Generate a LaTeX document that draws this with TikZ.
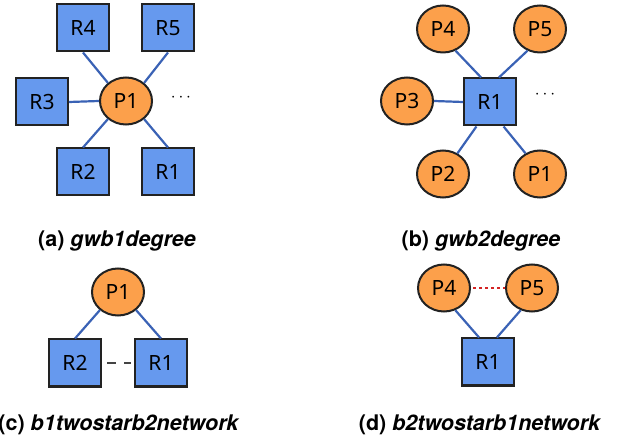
\documentclass[tikz,border=0pt]{standalone}
\usepackage{fontspec}
\setmainfont{Noto Sans}
\newfontfamily\capfont{TeX Gyre Heros}
\usetikzlibrary{shapes.geometric}
\definecolor{boxfill}{HTML}{6699EE}
\definecolor{ovalfill}{HTML}{FCA04B}
\definecolor{edgeblue}{HTML}{3A62B5}
\definecolor{outline}{HTML}{222222}
\definecolor{dashgray}{HTML}{444444}
\definecolor{dotred}{HTML}{D42424}
\tikzset{
  rbox/.style={draw=outline, line width=2pt, fill=boxfill, rectangle,
    minimum width=52pt, minimum height=47pt, inner sep=0pt,
    font=\fontsize{21}{24}\selectfont},
  poval/.style={draw=outline, line width=2pt, fill=ovalfill, ellipse,
    minimum width=52pt, minimum height=47pt, inner sep=0pt,
    font=\fontsize{21}{24}\selectfont},
  link/.style={draw=edgeblue, line width=2.2pt},
  caption/.style={font=\capfont\bfseries\fontsize{21.5}{24}\selectfont},
  more/.style={font=\fontsize{18}{20}\selectfont}
}
\begin{document}
\begin{tikzpicture}[x=1pt, y=-1pt]
\useasboundingbox (0,0) rectangle (629,443);

% (a) one person, many roles
\node[poval] (aP1) at (126,101) {P1};
\node[rbox] (aR4) at (83,28) {R4};
\node[rbox] (aR5) at (168,28) {R5};
\node[rbox] (aR3) at (42,102) {R3};
\node[rbox] (aR2) at (83,172) {R2};
\node[rbox] (aR1) at (168,172) {R1};
\node[more] (adots) at (181,98) {$\cdots$};
\draw[link] (aP1.135) -- (aR4.south);
\draw[link] (aP1.45) -- (aR5.south);
\draw[link] (aP1.west) -- (aR3.east);
\draw[link] (aP1.225) -- (aR2.north);
\draw[link] (aP1.315) -- (aR1.north);
\node[caption] (capa) at (117,241) {(a) \textit{gwb1degree}};

% (b) one role, many persons
\node[rbox] (bR1) at (490,102) {R1};
\node[poval] (bP4) at (443,29) {P4};
\node[poval] (bP5) at (540,29) {P5};
\node[poval] (bP3) at (407,101) {P3};
\node[poval] (bP2) at (443,174) {P2};
\node[poval] (bP1) at (540,174) {P1};
\node[more] (bdots) at (545,95) {$\cdots$};
\draw[link] (bP4.300) -- (bR1.110);
\draw[link] (bP5.240) -- (bR1.70);
\draw[link] (bP3.east) -- (bR1.west);
\draw[link] (bP2.55) -- (bR1.241);
\draw[link] (bP1.125) -- (bR1.299);
\node[caption] (capb) at (481,241) {(b) \textit{gwb2degree}};

% (c) two-star on a person, roles tied
\node[poval] (cP1) at (118,292) {P1};
\node[rbox] (cR2) at (75,363) {R2};
\node[rbox] (cR1) at (161,363) {R1};
\draw[link] (cP1.225) -- (cR2.north);
\draw[link] (cP1.315) -- (cR1.north);
\draw[draw=dashgray, line width=2.6pt, dash pattern=on 9pt off 8pt,
  shorten <=5pt, shorten >=3pt] (cR2.east) -- (cR1.west);
\node[caption] (capc) at (119,425) {(c) \textit{b1twostarb2network}};

% (d) two-star on a role, persons tied
\node[poval] (dP4) at (444,288) {P4};
\node[poval] (dP5) at (532,288) {P5};
\node[rbox] (dR1) at (488,362) {R1};
\draw[link] (dP4.297) -- (dR1.110);
\draw[link] (dP5.243) -- (dR1.70);
\draw[draw=dotred, line width=2.4pt, dash pattern=on 2.5pt off 3.5pt,
  shorten <=2pt] (dP4.east) -- (dP5.west);
\node[caption] (capd) at (480,425) {(d) \textit{b2twostarb1network}};
\end{tikzpicture}
\end{document}
